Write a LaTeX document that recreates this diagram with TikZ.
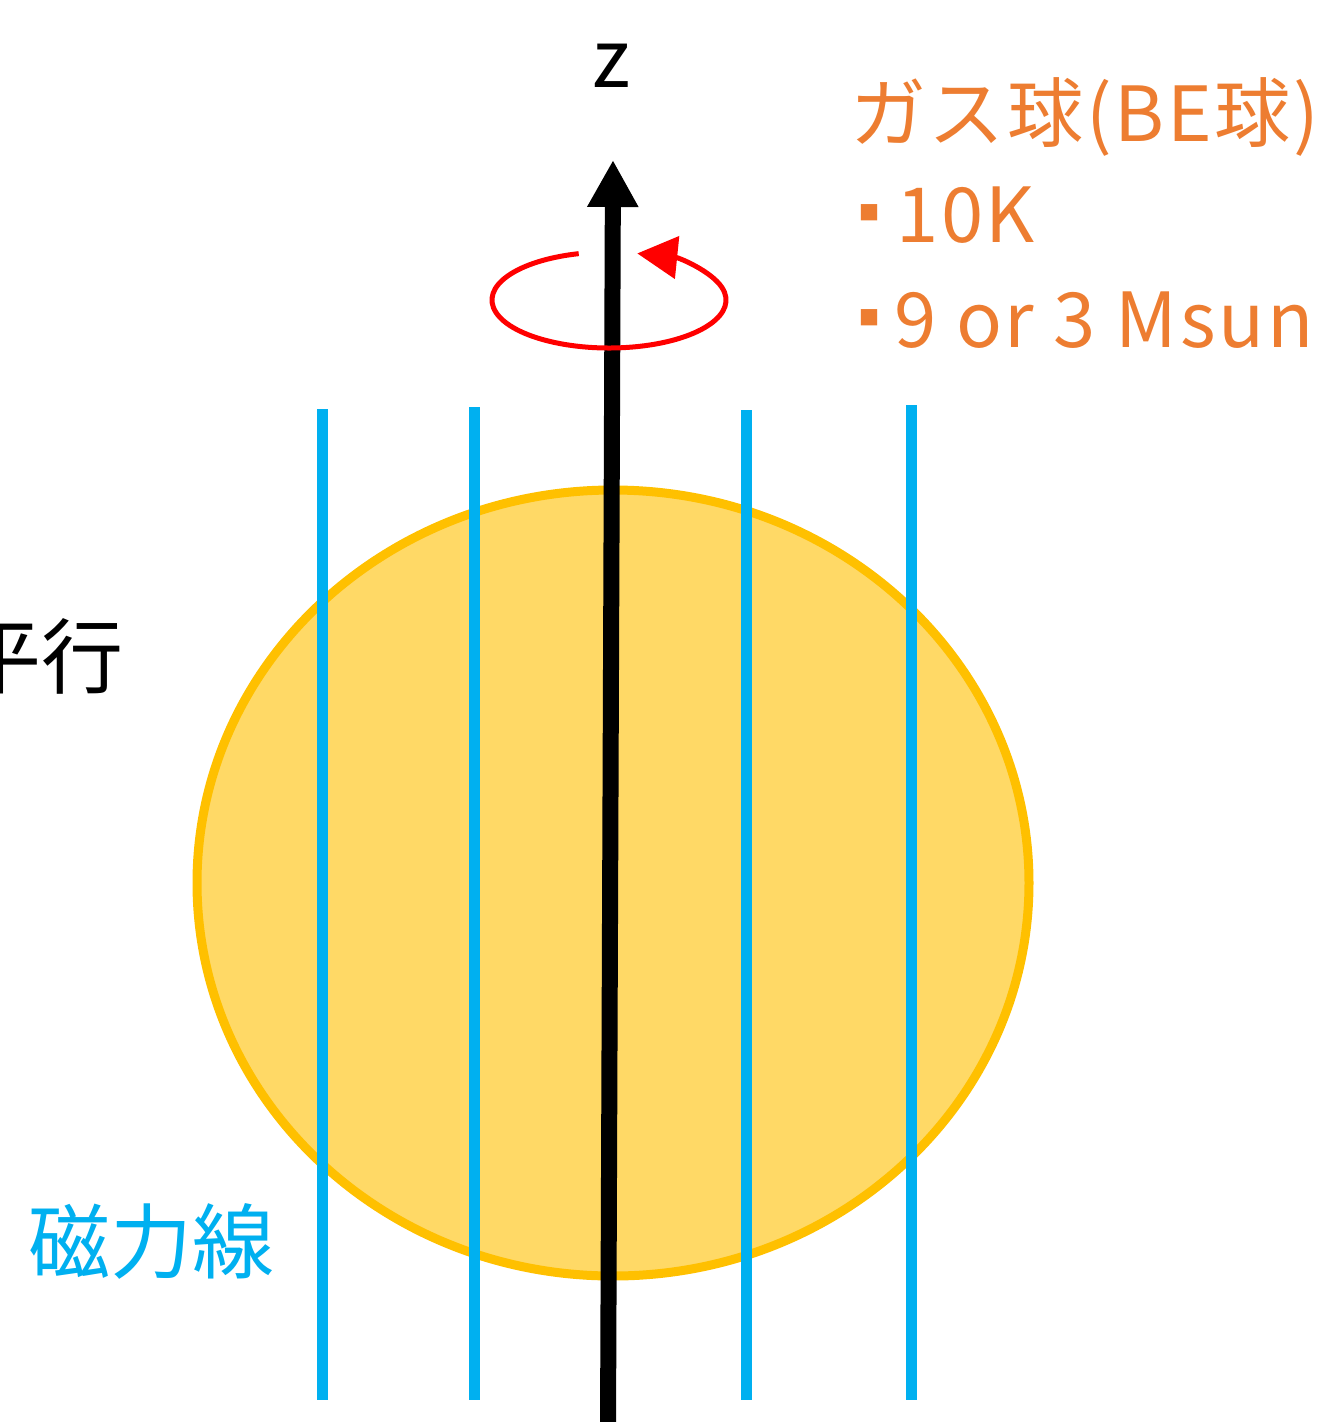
\documentclass[tikz,border=0pt]{standalone}
\usepackage{fontspec}
\usepackage{tikz}
\usetikzlibrary{arrows.meta}
\newfontfamily\jpfont{Noto Sans CJK JP}
\newfontfamily\jpwide[LetterSpace=3.5]{Noto Sans CJK JP}
\definecolor{cGas}{HTML}{ED7D31}
\definecolor{cField}{HTML}{00B0F0}
\definecolor{cBall}{HTML}{FFD966}
\definecolor{cRim}{HTML}{FFC000}
\definecolor{cSpin}{HTML}{FF0000}
\tikzset{
  gasball/.style={draw=cRim,fill=cBall,line width=9pt},
  fieldline/.style={draw=cField,line width=11pt},
  spinaxis/.style={line width=16pt,-{Triangle[length=47pt,width=48pt]}},
  rotarr/.style={draw=cSpin,line width=5pt,-{Triangle[length=40pt,width=42pt]}},
  lbl/.style={font=\jpwide\fontsize{76}{80}\selectfont,inner sep=0pt,text=cGas},
  bul/.style={font=\jpfont\fontsize{60}{62}\selectfont,inner sep=0pt,text=cGas},
  biglbl/.style={font=\jpfont\fontsize{82}{86}\selectfont,inner sep=0pt},
}
\begin{document}
\begin{tikzpicture}[x=1pt,y=-1pt]
  \useasboundingbox (0,0) rectangle (1336,1422);
  % gas sphere
  \draw[gasball] (613,883) ellipse [x radius=416,y radius=393];
  % field lines
  \foreach \xx/\yy in {322/409,474/407,746/410,911/405}{
    \draw[fieldline] (\xx,\yy) -- (\xx,1400);
  }
  % rotation axis
  \coordinate (zbot) at (608,1430);
  \coordinate (ztop) at (613,160);
  \draw[spinaxis] (zbot) -- (ztop);
  \node[font=\jpfont\fontsize{80}{84}\selectfont,inner sep=0pt] (zlbl) at (611,66) {z};
  % rotation
  \draw[rotarr] (609,300) ++(-105:117 and 48)
    arc[start angle=-105,end angle=-436,x radius=117,y radius=48];
  % labels
  \node[lbl,anchor=base west] (ball) at (850,141) {ガス球(BE球)};
  \node[bul] (b1) at (869,220) {▪};
  \node[lbl,anchor=base west] (temp) at (896,242) {10K};
  \node[bul] (b2) at (869,325) {▪};
  \node[lbl,anchor=base west] (mass) at (894,347) {9 or 3 Msun};
  \node[biglbl,anchor=east] (para) at (124,656) {平行};
  \node[biglbl,text=cField,anchor=west] (field) at (28,1241) {磁力線};
\end{tikzpicture}
\end{document}
